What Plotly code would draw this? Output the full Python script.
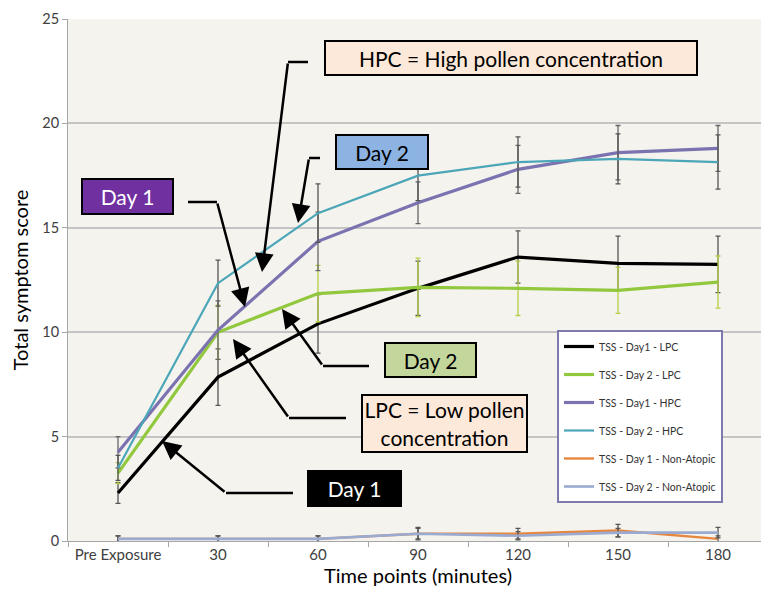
import plotly.graph_objects as go

categories = ["Pre Exposure", "30", "60", "90", "120", "150", "180"]

series_names = [
    "TSS - Day1 - LPC",
    "TSS - Day 2 - LPC",
    "TSS - Day1 - HPC",
    "TSS - Day 2 - HPC",
    "TSS - Day 1 - Non-Atopic",
    "TSS - Day 2 - Non-Atopic",
]

day1_lpc = [2.3, 7.85, 10.4, 12.1, 13.6, 13.3, 13.25]
day2_lpc = [3.25, 10.0, 11.85, 12.15, 12.1, 12.0, 12.4]
day1_hpc = [4.25, 10.1, 14.35, 16.2, 17.8, 18.6, 18.8]
day2_hpc = [3.5, 12.35, 15.7, 17.5, 18.15, 18.3, 18.15]
day1_na = [0.1, 0.1, 0.1, 0.35, 0.35, 0.5, 0.1]
day2_na = [0.1, 0.1, 0.1, 0.35, 0.25, 0.4, 0.4]

err_day1_lpc = [0.5, 1.35, 1.4, 1.3, 1.25, 1.3, 1.35]
err_day2_lpc = [0.5, 1.3, 1.35, 1.4, 1.3, 1.1, 1.25]
err_day1_hpc = [0.75, 1.4, 1.4, 1.0, 1.15, 1.3, 1.1]
err_day2_hpc = [0.6, 1.1, 1.4, 1.2, 1.2, 1.2, 1.3]
err_day1_na = [0.15, 0.15, 0.15, 0.3, 0.25, 0.3, 0.15]
err_day2_na = [0.15, 0.15, 0.15, 0.25, 0.2, 0.2, 0.25]

values = [day1_lpc, day2_lpc, day1_hpc, day2_hpc, day1_na, day2_na]
errors = [err_day1_lpc, err_day2_lpc, err_day1_hpc, err_day2_hpc, err_day1_na, err_day2_na]
colors = ["#000000", "#92C83E", "#7B72B0", "#4BA6B8", "#E5873F", "#9AAAD0"]
widths = [3.2, 3.2, 3.2, 2.2, 2.4, 2.6]
err_colors = ["#555555", "#B5CF4A", "#666666", "#555555", "#555555", "#555555"]

FONT = "Lato"

fig = go.Figure()
for name, v, e, c, w, ec in zip(series_names, values, errors, colors, widths, err_colors):
    fig.add_trace(go.Scatter(
        x=categories, y=v, name=name, mode="lines",
        line=dict(color=c, width=w),
        error_y=dict(type="data", array=e, color=ec, thickness=1.3, width=2.5),
        legendgroup=name,
    ))

# page offset of the figure (browser body margin)
OFF = 8
# plot area in window pixels
L, T, W, H = 68, 19, 700, 522
FIG_W, FIG_H = 769 - OFF, 593 - OFF


def px(x):
    return (x - L) / W


def py(y):
    return (T + H - y) / H


annotations = []
shapes = []

# text boxes: (text, x0, y0, x1, y1, fill, font color)
boxes = [
    ("HPC = High pollen concentration", 324, 40, 698, 76, "#FDE9D9", "#000000"),
    ("Day 2", 335, 134, 429, 170, "#8DB3E2", "#000000"),
    ("Day 1", 81, 178, 174, 215, "#7030A0", "#FFFFFF"),
    ("Day 2", 384, 342, 477, 378, "#C3D69B", "#000000"),
    ("LPC = Low pollen<br>concentration", 361, 394, 528, 453, "#FDE9D9", "#000000"),
    ("Day 1", 307, 470, 402, 507, "#000000", "#FFFFFF"),
]
for text, x0, y0, x1, y1, fill, fc in boxes:
    annotations.append(dict(
        text=text, xref="paper", yref="paper",
        x=px((x0 + x1) / 2), y=py((y0 + y1) / 2), xanchor="center", yanchor="middle",
        showarrow=False, bgcolor=fill, bordercolor="#000000", borderwidth=2, borderpad=0,
        width=x1 - x0 - 4, height=y1 - y0 - 4,
        font=dict(family=FONT, size=21, color=fc),
    ))

# connectors: (start x, y, elbow x, y, tip x, y)
connectors = [
    (308, 62, 288, 62, 262, 272),
    (320, 158, 309, 158, 298, 223),
    (188, 202, 217, 202, 245, 307),
    (369, 366, 323, 366, 282, 309),
    (346, 418, 289, 418, 233, 339),
    (293, 493, 226, 493, 162, 441),
]
for sx, sy, ex, ey, tx, ty in connectors:
    shapes.append(dict(type="line", xref="paper", yref="paper",
                       x0=px(sx), y0=py(sy), x1=px(ex), y1=py(ey),
                       line=dict(color="#000000", width=2.5)))
    annotations.append(dict(
        text="", xref="paper", yref="paper", x=px(tx), y=py(ty),
        ax=ex - tx, ay=ey - ty, showarrow=True, arrowhead=2, arrowsize=1.5,
        arrowwidth=2.5, arrowcolor="#000000", standoff=0,
    ))

fig.update_layout(
    width=FIG_W, height=FIG_H,
    margin=dict(l=L - OFF, r=FIG_W - (L - OFF) - W, t=T - OFF, b=FIG_H - (T - OFF) - H, pad=0),
    paper_bgcolor="#FFFFFF", plot_bgcolor="#F5F3EE",
    font=dict(family=FONT, color="#404040"),
    showlegend=True,
    legend=dict(
        x=px(557), y=py(330), xanchor="left", yanchor="top",
        bgcolor="#FFFFFF", bordercolor="#7F7AAE", borderwidth=2,
        font=dict(family=FONT, size=10.5, color="#333333"),
        tracegroupgap=9, traceorder="grouped", itemwidth=30,
    ),
    annotations=annotations, shapes=shapes,
)
fig.update_xaxes(
    type="category", categoryorder="array", categoryarray=categories,
    range=[-0.5, 6.5], showline=True, linecolor="#A6A6A6", linewidth=1,
    ticks="outside", tickson="boundaries", ticklen=5, tickcolor="#A6A6A6",
    showgrid=False, tickfont=dict(size=15, color="#404040"),
    title=dict(text="Time points (minutes)", font=dict(size=20, color="#000000"), standoff=4),
    automargin=False,
)
fig.update_yaxes(
    range=[0, 25], dtick=5, showline=True, linecolor="#A6A6A6", linewidth=1,
    ticks="outside", ticklen=5, tickcolor="#A6A6A6",
    gridcolor="#C4C4C4", gridwidth=1.5, zeroline=False,
    tickfont=dict(size=14.5, color="#404040"),
    title=dict(text="Total symptom score", font=dict(size=20, color="#000000"), standoff=10),
    automargin=False,
)

fig.write_html("out.html")
